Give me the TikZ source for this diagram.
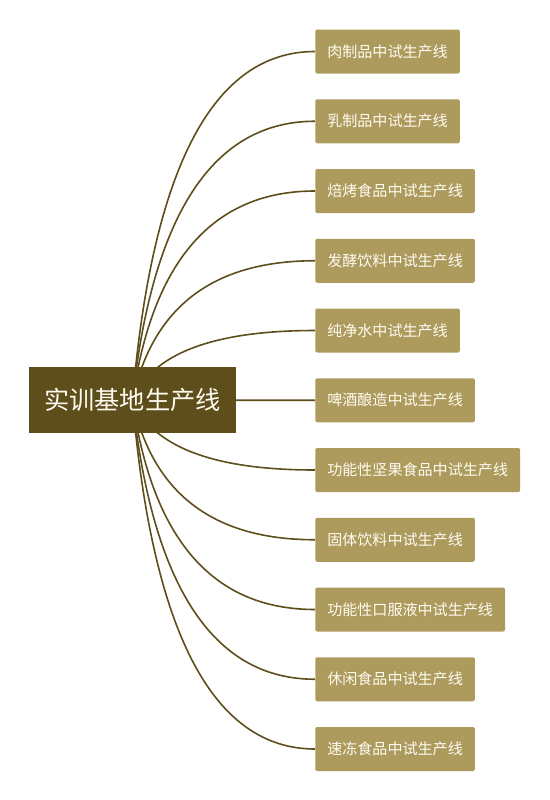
\documentclass[tikz,border=0pt]{standalone}
\usepackage{fontspec}
\newfontfamily\cjk{Noto Sans CJK SC}
\usetikzlibrary{calc,backgrounds}
\definecolor{rootc}{HTML}{5D4E1B}
\definecolor{leafc}{HTML}{AD9B5E}
\definecolor{linec}{HTML}{5D4E1B}
\definecolor{leaftext}{HTML}{FFFBF0}
\begin{document}
\begin{tikzpicture}[x=0.75pt,y=-0.75pt,
  leaf/.style={fill=leafc, text=leaftext, font=\cjk\fontsize{11.3pt}{13pt}\selectfont,
    minimum height=33pt, inner xsep=9pt, inner ysep=0pt, rounded corners=1.5pt, anchor=west},
  rootbox/.style={fill=rootc, text=leaftext, font=\cjk\fontsize{18.9pt}{22pt}\selectfont,
    minimum width=155.25pt, minimum height=49.5pt, inner sep=0pt},
  edge/.style={draw=linec, line width=1.2pt}]
\useasboundingbox (0,0) rectangle (550,800);
\coordinate (k) at (162,400);
\node[rootbox] (root) at (132.5,400) {实训基地生产线};
\foreach \i/\t in {1/肉制品中试生产线,2/乳制品中试生产线,3/焙烤食品中试生产线,4/发酵饮料中试生产线,5/纯净水中试生产线,6/啤酒酿造中试生产线,7/功能性坚果食品中试生产线,8/固体饮料中试生产线,9/功能性口服液中试生产线,10/休闲食品中试生产线,11/速冻食品中试生产线}{
  \node[leaf] (L\i) at (315,{51.5+69.75*(\i-1)}) {\t};
}
\begin{scope}[on background layer]
\foreach \i in {1,...,11}{
  \draw[edge] (root.center) .. controls ($(root.center)!0.6667!(k |- L\i.west)$) and ($(L\i.west)!0.6667!(k |- L\i.west)$) .. (L\i.west);
}
\end{scope}
\end{tikzpicture}
\end{document}
